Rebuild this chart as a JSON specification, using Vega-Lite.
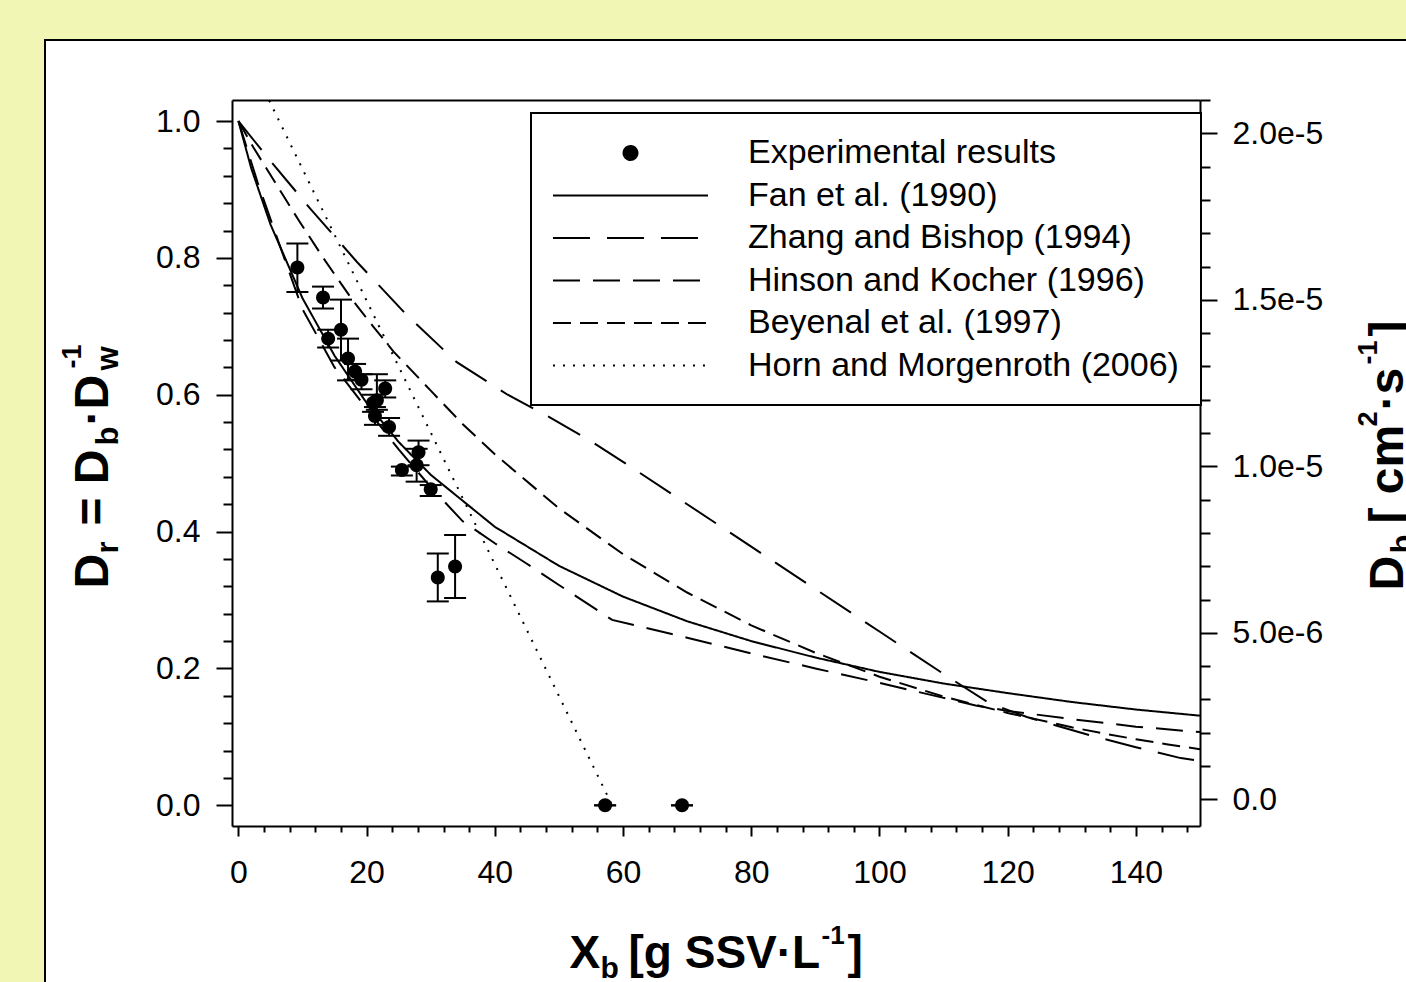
{
  "$schema": "https://vega.github.io/schema/vega-lite/v6.json",
  "width": 1366,
  "height": 946,
  "autosize": {"type": "none"},
  "padding": {"left": 45, "top": 40, "right": -5, "bottom": -4},
  "background": "#F2F6B4",
  "config": {
    "view": {"fill": "white", "stroke": "black", "strokeWidth": 2},
    "font": "Liberation Sans",
    "axis": {"domainColor": "black", "tickColor": "black", "labelColor": "black", "titleColor": "black", "domainWidth": 2, "tickWidth": 2, "grid": false, "labelFont": "Liberation Sans", "titleFont": "Liberation Sans", "labelFontSize": 32, "titleFontWeight": "bold", "labelFlush": false, "labelOverlap": false},
    "legend": {"padding": 22, "strokeColor": "black", "strokeWidth": 2, "fillColor": "white", "labelFont": "Liberation Sans", "labelFontSize": 34, "labelColor": "black", "labelOffset": 99.5, "symbolOffset": 59.5, "rowPadding": 7.5, "labelLimit": 1000, "symbolStrokeWidth": 2, "symbolStrokeColor": "black", "symbolFillColor": "black", "symbolOpacity": 1, "symbolSize": 1156}
  },
  "datasets": {
    "anchor": [{"v": 0}],
    "exp": [
      {"series": "Experimental results", "x": 9.2, "y": 0.786, "lo": 0.750, "hi": 0.821},
      {"series": "Experimental results", "x": 13.2, "y": 0.742, "lo": 0.726, "hi": 0.758},
      {"series": "Experimental results", "x": 16.0, "y": 0.695, "lo": 0.650, "hi": 0.739},
      {"series": "Experimental results", "x": 14.0, "y": 0.682, "lo": 0.669, "hi": 0.695},
      {"series": "Experimental results", "x": 17.1, "y": 0.653, "lo": 0.621, "hi": 0.682},
      {"series": "Experimental results", "x": 18.2, "y": 0.634, "lo": 0.622, "hi": 0.645},
      {"series": "Experimental results", "x": 19.2, "y": 0.622, "lo": 0.608, "hi": 0.630},
      {"series": "Experimental results", "x": 22.9, "y": 0.609, "lo": 0.596, "hi": 0.621},
      {"series": "Experimental results", "x": 21.6, "y": 0.592, "lo": 0.578, "hi": 0.630},
      {"series": "Experimental results", "x": 21.0, "y": 0.588, "lo": 0.575, "hi": 0.600},
      {"series": "Experimental results", "x": 21.3, "y": 0.569, "lo": 0.556, "hi": 0.582},
      {"series": "Experimental results", "x": 23.5, "y": 0.553, "lo": 0.540, "hi": 0.566},
      {"series": "Experimental results", "x": 28.1, "y": 0.516, "lo": 0.497, "hi": 0.533},
      {"series": "Experimental results", "x": 25.5, "y": 0.490, "lo": 0.482, "hi": 0.495},
      {"series": "Experimental results", "x": 27.8, "y": 0.497, "lo": 0.473, "hi": 0.521},
      {"series": "Experimental results", "x": 30.0, "y": 0.462, "lo": 0.452, "hi": 0.468},
      {"series": "Experimental results", "x": 31.1, "y": 0.333, "lo": 0.298, "hi": 0.368},
      {"series": "Experimental results", "x": 33.8, "y": 0.349, "lo": 0.303, "hi": 0.395},
      {"series": "Experimental results", "x": 57.2, "y": 0.0, "lo": 0.0, "hi": 0.0},
      {"series": "Experimental results", "x": 69.2, "y": 0.0, "lo": 0.0, "hi": 0.0}
    ],
    "curves": [
      {"series": "Fan et al. (1990)", "x": 0, "y": 1.0},
      {"series": "Fan et al. (1990)", "x": 2, "y": 0.931},
      {"series": "Fan et al. (1990)", "x": 5, "y": 0.849},
      {"series": "Fan et al. (1990)", "x": 10, "y": 0.741},
      {"series": "Fan et al. (1990)", "x": 15, "y": 0.657},
      {"series": "Fan et al. (1990)", "x": 20, "y": 0.588},
      {"series": "Fan et al. (1990)", "x": 25, "y": 0.531},
      {"series": "Fan et al. (1990)", "x": 30, "y": 0.483},
      {"series": "Fan et al. (1990)", "x": 40, "y": 0.407},
      {"series": "Fan et al. (1990)", "x": 50, "y": 0.350},
      {"series": "Fan et al. (1990)", "x": 60, "y": 0.305},
      {"series": "Fan et al. (1990)", "x": 70, "y": 0.269},
      {"series": "Fan et al. (1990)", "x": 80, "y": 0.240},
      {"series": "Fan et al. (1990)", "x": 90, "y": 0.216},
      {"series": "Fan et al. (1990)", "x": 100, "y": 0.195},
      {"series": "Fan et al. (1990)", "x": 110, "y": 0.178},
      {"series": "Fan et al. (1990)", "x": 120, "y": 0.164},
      {"series": "Fan et al. (1990)", "x": 130, "y": 0.151},
      {"series": "Fan et al. (1990)", "x": 140, "y": 0.140},
      {"series": "Fan et al. (1990)", "x": 150, "y": 0.131},
      {"series": "Zhang and Bishop (1994)", "x": 0, "y": 1.0},
      {"series": "Zhang and Bishop (1994)", "x": 4.7, "y": 0.945},
      {"series": "Zhang and Bishop (1994)", "x": 11.2, "y": 0.872},
      {"series": "Zhang and Bishop (1994)", "x": 18.5, "y": 0.794},
      {"series": "Zhang and Bishop (1994)", "x": 26, "y": 0.719},
      {"series": "Zhang and Bishop (1994)", "x": 34, "y": 0.648},
      {"series": "Zhang and Bishop (1994)", "x": 42, "y": 0.600},
      {"series": "Zhang and Bishop (1994)", "x": 48, "y": 0.570},
      {"series": "Zhang and Bishop (1994)", "x": 55, "y": 0.532},
      {"series": "Zhang and Bishop (1994)", "x": 60, "y": 0.502},
      {"series": "Zhang and Bishop (1994)", "x": 70, "y": 0.440},
      {"series": "Zhang and Bishop (1994)", "x": 80, "y": 0.378},
      {"series": "Zhang and Bishop (1994)", "x": 90, "y": 0.316},
      {"series": "Zhang and Bishop (1994)", "x": 100, "y": 0.254},
      {"series": "Zhang and Bishop (1994)", "x": 110, "y": 0.192},
      {"series": "Zhang and Bishop (1994)", "x": 117, "y": 0.150},
      {"series": "Zhang and Bishop (1994)", "x": 123, "y": 0.129},
      {"series": "Zhang and Bishop (1994)", "x": 133, "y": 0.102},
      {"series": "Zhang and Bishop (1994)", "x": 140, "y": 0.085},
      {"series": "Zhang and Bishop (1994)", "x": 147, "y": 0.069},
      {"series": "Zhang and Bishop (1994)", "x": 150, "y": 0.065},
      {"series": "Hinson and Kocher (1996)", "x": 0, "y": 1.0},
      {"series": "Hinson and Kocher (1996)", "x": 3, "y": 0.91},
      {"series": "Hinson and Kocher (1996)", "x": 6, "y": 0.83},
      {"series": "Hinson and Kocher (1996)", "x": 10, "y": 0.725},
      {"series": "Hinson and Kocher (1996)", "x": 15, "y": 0.64},
      {"series": "Hinson and Kocher (1996)", "x": 20, "y": 0.58},
      {"series": "Hinson and Kocher (1996)", "x": 25, "y": 0.52},
      {"series": "Hinson and Kocher (1996)", "x": 30, "y": 0.465},
      {"series": "Hinson and Kocher (1996)", "x": 35, "y": 0.415},
      {"series": "Hinson and Kocher (1996)", "x": 40, "y": 0.383},
      {"series": "Hinson and Kocher (1996)", "x": 45, "y": 0.353},
      {"series": "Hinson and Kocher (1996)", "x": 50, "y": 0.322},
      {"series": "Hinson and Kocher (1996)", "x": 58.3, "y": 0.271},
      {"series": "Hinson and Kocher (1996)", "x": 70, "y": 0.245},
      {"series": "Hinson and Kocher (1996)", "x": 80, "y": 0.222},
      {"series": "Hinson and Kocher (1996)", "x": 90, "y": 0.200},
      {"series": "Hinson and Kocher (1996)", "x": 100, "y": 0.179},
      {"series": "Hinson and Kocher (1996)", "x": 110, "y": 0.157},
      {"series": "Hinson and Kocher (1996)", "x": 115, "y": 0.146},
      {"series": "Hinson and Kocher (1996)", "x": 120, "y": 0.138},
      {"series": "Hinson and Kocher (1996)", "x": 130, "y": 0.126},
      {"series": "Hinson and Kocher (1996)", "x": 140, "y": 0.115},
      {"series": "Hinson and Kocher (1996)", "x": 150, "y": 0.107},
      {"series": "Beyenal et al. (1997)", "x": 0, "y": 1.0},
      {"series": "Beyenal et al. (1997)", "x": 2.3, "y": 0.962},
      {"series": "Beyenal et al. (1997)", "x": 6.8, "y": 0.894},
      {"series": "Beyenal et al. (1997)", "x": 9.4, "y": 0.855},
      {"series": "Beyenal et al. (1997)", "x": 13.3, "y": 0.799},
      {"series": "Beyenal et al. (1997)", "x": 17.9, "y": 0.737},
      {"series": "Beyenal et al. (1997)", "x": 21, "y": 0.700},
      {"series": "Beyenal et al. (1997)", "x": 24.2, "y": 0.663},
      {"series": "Beyenal et al. (1997)", "x": 30, "y": 0.606},
      {"series": "Beyenal et al. (1997)", "x": 35, "y": 0.557},
      {"series": "Beyenal et al. (1997)", "x": 40, "y": 0.513},
      {"series": "Beyenal et al. (1997)", "x": 50, "y": 0.434},
      {"series": "Beyenal et al. (1997)", "x": 60, "y": 0.367},
      {"series": "Beyenal et al. (1997)", "x": 70, "y": 0.311},
      {"series": "Beyenal et al. (1997)", "x": 80, "y": 0.263},
      {"series": "Beyenal et al. (1997)", "x": 90, "y": 0.223},
      {"series": "Beyenal et al. (1997)", "x": 100, "y": 0.188},
      {"series": "Beyenal et al. (1997)", "x": 110, "y": 0.159},
      {"series": "Beyenal et al. (1997)", "x": 120, "y": 0.135},
      {"series": "Beyenal et al. (1997)", "x": 130, "y": 0.114},
      {"series": "Beyenal et al. (1997)", "x": 135, "y": 0.105},
      {"series": "Beyenal et al. (1997)", "x": 140, "y": 0.0965},
      {"series": "Beyenal et al. (1997)", "x": 145, "y": 0.089},
      {"series": "Beyenal et al. (1997)", "x": 150, "y": 0.082},
      {"series": "Horn and Morgenroth (2006)", "x": 4.8, "y": 1.03},
      {"series": "Horn and Morgenroth (2006)", "x": 58.3, "y": 0.0}
    ]
  },
  "layer": [
    {
      "layer": [
        {
          "data": {"name": "curves"},
          "mark": {"type": "line", "color": "black", "strokeWidth": 2},
          "encoding": {
            "x": {"field": "x", "type": "quantitative", "scale": {"domain": [-1, 150], "range": [187, 1155], "nice": false}, "axis": null},
            "y": {"field": "y", "type": "quantitative", "scale": {"domain": [-0.0302, 1.0307], "range": [786, 60], "nice": false}, "axis": null},
            "strokeDash": {"field": "series", "type": "nominal",
              "scale": {"domain": ["Experimental results", "Fan et al. (1990)", "Zhang and Bishop (1994)", "Hinson and Kocher (1996)", "Beyenal et al. (1997)", "Horn and Morgenroth (2006)"],
                        "range": [[1, 0], [1, 0], [37, 17], [27, 13], [18, 9], [2, 8]]},
              "legend": {"title": null, "orient": "none", "legendX": 486, "legendY": 73,
                "encode": {"symbols": {"update": {"fill": {"value": "black"}, "stroke": {"value": "black"}, "strokeWidth": {"value": 2}, "opacity": {"value": 1}, "size": {"value": 1156}}}}}}
          }
        },
        {
          "data": {"name": "exp"},
          "mark": {"type": "rule", "color": "black", "strokeWidth": 2},
          "encoding": {
            "x": {"field": "x", "type": "quantitative", "scale": {"domain": [-1, 150], "range": [187, 1155], "nice": false}, "axis": null},
            "y": {"field": "lo", "type": "quantitative", "scale": {"domain": [-0.0302, 1.0307], "range": [786, 60], "nice": false}, "axis": null},
            "y2": {"field": "hi"}
          }
        },
        {
          "data": {"name": "exp"},
          "mark": {"type": "tick", "orient": "horizontal", "color": "black", "size": 22, "thickness": 2, "opacity": 1},
          "encoding": {
            "x": {"field": "x", "type": "quantitative", "scale": {"domain": [-1, 150], "range": [187, 1155], "nice": false}, "axis": null},
            "y": {"field": "lo", "type": "quantitative", "scale": {"domain": [-0.0302, 1.0307], "range": [786, 60], "nice": false}, "axis": null}
          }
        },
        {
          "data": {"name": "exp"},
          "mark": {"type": "tick", "orient": "horizontal", "color": "black", "size": 22, "thickness": 2, "opacity": 1},
          "encoding": {
            "x": {"field": "x", "type": "quantitative", "scale": {"domain": [-1, 150], "range": [187, 1155], "nice": false}, "axis": null},
            "y": {"field": "hi", "type": "quantitative", "scale": {"domain": [-0.0302, 1.0307], "range": [786, 60], "nice": false}, "axis": null}
          }
        },
        {
          "data": {"name": "exp"},
          "mark": {"type": "point", "filled": true, "color": "black", "opacity": 1, "size": 1156, "strokeWidth": 0},
          "encoding": {
            "x": {"field": "x", "type": "quantitative", "scale": {"domain": [-1, 150], "range": [187, 1155], "nice": false}, "axis": null},
            "y": {"field": "y", "type": "quantitative", "scale": {"domain": [-0.0302, 1.0307], "range": [786, 60], "nice": false}, "axis": null},
            "shape": {"field": "series", "type": "nominal",
              "scale": {"domain": ["Experimental results", "Fan et al. (1990)", "Zhang and Bishop (1994)", "Hinson and Kocher (1996)", "Beyenal et al. (1997)", "Horn and Morgenroth (2006)"],
                        "range": ["M-0.41,0A0.41,0.41,0,1,0,0.41,0A0.41,0.41,0,1,0,-0.41,0Z", "M-4.56,0H4.56", "M-4.56,0H4.56", "M-4.56,0H4.56", "M-4.56,0H4.56", "M-4.56,0H4.56"]},
              "legend": {"title": null, "orient": "none", "legendX": 486, "legendY": 73,
                "encode": {"symbols": {"update": {"fill": {"value": "black"}, "stroke": {"value": "black"}, "strokeWidth": {"value": 2}, "opacity": {"value": 1}, "size": {"value": 1156}}}}}}
          }
        }
      ]
    },
    {
      "data": {"name": "anchor"},
      "mark": {"type": "point", "opacity": 0},
      "encoding": {
        "x": {"field": "v", "type": "quantitative", "scale": {"domain": [-1, 150], "range": [187, 1155], "nice": false},
          "axis": {"orient": "bottom", "offset": -160, "values": [0, 20, 40, 60, 80, 100, 120, 140], "tickSize": 10, "labelPadding": 21, "title": null}}
      }
    },
    {
      "data": {"name": "anchor"},
      "mark": {"type": "point", "opacity": 0},
      "encoding": {
        "y": {"field": "v", "type": "quantitative", "scale": {"domain": [-0.0302, 1.0307], "range": [786, 60], "nice": false},
          "axis": {"orient": "left", "offset": -187, "values": [0, 0.2, 0.4, 0.6, 0.8, 1.0], "format": ".1f", "tickSize": 16, "labelPadding": 16, "title": null}}
      }
    },
    {
      "data": {"name": "anchor"},
      "mark": {"type": "point", "opacity": 0},
      "encoding": {
        "y": {"field": "v", "type": "quantitative", "scale": {"domain": [-8.0e-7, 2.1e-5], "range": [786, 60], "nice": false},
          "axis": {"orient": "right", "offset": -211, "values": [0, 5e-6, 1e-5, 1.5e-5, 2e-5], "labelExpr": "datum.value == 0 ? '0.0' : format(datum.value, '.1e')", "tickSize": 17, "labelPadding": 15, "title": null}}
      }
    },
    {
      "data": {"name": "anchor"},
      "mark": {"type": "point", "opacity": 0},
      "encoding": {
        "y": {"field": "v", "type": "quantitative", "scale": {"domain": [-8.0e-7, 2.1e-5], "range": [786, 60], "nice": false},
          "axis": {"orient": "right", "offset": -211, "values": [1e-6, 2e-6, 3e-6, 4e-6, 6e-6, 7e-6, 8e-6, 9e-6, 1.1e-5, 1.2e-5, 1.3e-5, 1.4e-5, 1.6e-5, 1.7e-5, 1.8e-5, 1.9e-5, 2.1e-5], "tickSize": 10, "labels": false, "domain": false, "title": null}}
      }
    },
    {
      "data": {"name": "anchor"},
      "mark": {"type": "point", "opacity": 0},
      "encoding": {
        "y": {"field": "v", "type": "quantitative", "scale": {"domain": [-0.0302, 1.0307], "range": [786, 60], "nice": false},
          "axis": {"orient": "left", "offset": -187, "values": [0.04, 0.08, 0.12, 0.16, 0.24, 0.28, 0.32, 0.36, 0.44, 0.48, 0.52, 0.56, 0.64, 0.68, 0.72, 0.76, 0.84, 0.88, 0.92, 0.96], "tickSize": 9, "labels": false, "domain": false, "title": null}}
      }
    },
    {
      "data": {"name": "anchor"},
      "mark": {"type": "point", "opacity": 0},
      "encoding": {
        "x": {"field": "v", "type": "quantitative", "scale": {"domain": [-1, 150], "range": [187, 1155], "nice": false},
          "axis": {"orient": "bottom", "offset": -160, "values": [4, 8, 12, 16, 24, 28, 32, 36, 44, 48, 52, 56, 64, 68, 72, 76, 84, 88, 92, 96, 104, 108, 112, 116, 124, 128, 132, 136, 144, 148], "tickSize": 6, "labels": false, "domain": false, "title": null}}
      }
    },
    {
      "data": {"name": "anchor"},
      "mark": {"type": "point", "opacity": 0},
      "encoding": {
        "x": {"field": "v", "type": "quantitative", "scale": {"domain": [-1, 150], "range": [187, 1155], "nice": false},
          "axis": {"orient": "top", "offset": -60, "ticks": false, "labels": false, "domain": true, "title": null}}
      }
    },
    {
      "data": {"name": "anchor"},
      "mark": {"type": "point", "opacity": 0},
      "encoding": {
        "x": {"field": "v", "type": "quantitative", "scale": {"domain": [-1, 150], "range": [187, 1155], "nice": false},
          "axis": {"orient": "bottom", "offset": -160, "ticks": false, "labels": false, "domain": false, "title": "X", "titleX": 524, "titleY": 141, "titleAlign": "left", "titleBaseline": "alphabetic", "titleAngle": 0, "titleFontSize": 46}}
      }
    },
    {
      "data": {"name": "anchor"},
      "mark": {"type": "point", "opacity": 0},
      "encoding": {
        "x": {"field": "v", "type": "quantitative", "scale": {"domain": [-1, 150], "range": [187, 1155], "nice": false},
          "axis": {"orient": "bottom", "offset": -160, "ticks": false, "labels": false, "domain": false, "title": "b", "titleX": 555, "titleY": 151, "titleAlign": "left", "titleBaseline": "alphabetic", "titleAngle": 0, "titleFontSize": 30}}
      }
    },
    {
      "data": {"name": "anchor"},
      "mark": {"type": "point", "opacity": 0},
      "encoding": {
        "x": {"field": "v", "type": "quantitative", "scale": {"domain": [-1, 150], "range": [187, 1155], "nice": false},
          "axis": {"orient": "bottom", "offset": -160, "ticks": false, "labels": false, "domain": false, "title": "[g SSV·L", "titleX": 583, "titleY": 141, "titleAlign": "left", "titleBaseline": "alphabetic", "titleAngle": 0, "titleFontSize": 46}}
      }
    },
    {
      "data": {"name": "anchor"},
      "mark": {"type": "point", "opacity": 0},
      "encoding": {
        "x": {"field": "v", "type": "quantitative", "scale": {"domain": [-1, 150], "range": [187, 1155], "nice": false},
          "axis": {"orient": "bottom", "offset": -160, "ticks": false, "labels": false, "domain": false, "title": "-1", "titleX": 776, "titleY": 117, "titleAlign": "left", "titleBaseline": "alphabetic", "titleAngle": 0, "titleFontSize": 26}}
      }
    },
    {
      "data": {"name": "anchor"},
      "mark": {"type": "point", "opacity": 0},
      "encoding": {
        "x": {"field": "v", "type": "quantitative", "scale": {"domain": [-1, 150], "range": [187, 1155], "nice": false},
          "axis": {"orient": "bottom", "offset": -160, "ticks": false, "labels": false, "domain": false, "title": "]", "titleX": 802, "titleY": 141, "titleAlign": "left", "titleBaseline": "alphabetic", "titleAngle": 0, "titleFontSize": 46}}
      }
    },
    {
      "data": {"name": "anchor"},
      "mark": {"type": "point", "opacity": 0},
      "encoding": {
        "y": {"field": "v", "type": "quantitative",
          "axis": {"orient": "left", "offset": -187, "ticks": false, "labels": false, "domain": false, "title": "D", "titleX": -125, "titleY": 548, "titleAlign": "left", "titleBaseline": "alphabetic", "titleAngle": 270, "titleFontSize": 48}}
      }
    },
    {
      "data": {"name": "anchor"},
      "mark": {"type": "point", "opacity": 0},
      "encoding": {
        "y": {"field": "v", "type": "quantitative",
          "axis": {"orient": "left", "offset": -187, "ticks": false, "labels": false, "domain": false, "title": "r", "titleX": -115, "titleY": 513, "titleAlign": "left", "titleBaseline": "alphabetic", "titleAngle": 270, "titleFontSize": 31}}
      }
    },
    {
      "data": {"name": "anchor"},
      "mark": {"type": "point", "opacity": 0},
      "encoding": {
        "y": {"field": "v", "type": "quantitative",
          "axis": {"orient": "left", "offset": -187, "ticks": false, "labels": false, "domain": false, "title": "= D", "titleX": -125, "titleY": 485, "titleAlign": "left", "titleBaseline": "alphabetic", "titleAngle": 270, "titleFontSize": 48}}
      }
    },
    {
      "data": {"name": "anchor"},
      "mark": {"type": "point", "opacity": 0},
      "encoding": {
        "y": {"field": "v", "type": "quantitative",
          "axis": {"orient": "left", "offset": -187, "ticks": false, "labels": false, "domain": false, "title": "b", "titleX": -115, "titleY": 405, "titleAlign": "left", "titleBaseline": "alphabetic", "titleAngle": 270, "titleFontSize": 31}}
      }
    },
    {
      "data": {"name": "anchor"},
      "mark": {"type": "point", "opacity": 0},
      "encoding": {
        "y": {"field": "v", "type": "quantitative",
          "axis": {"orient": "left", "offset": -187, "ticks": false, "labels": false, "domain": false, "title": "·D", "titleX": -125, "titleY": 385, "titleAlign": "left", "titleBaseline": "alphabetic", "titleAngle": 270, "titleFontSize": 48}}
      }
    },
    {
      "data": {"name": "anchor"},
      "mark": {"type": "point", "opacity": 0},
      "encoding": {
        "y": {"field": "v", "type": "quantitative",
          "axis": {"orient": "left", "offset": -187, "ticks": false, "labels": false, "domain": false, "title": "w", "titleX": -115, "titleY": 330, "titleAlign": "left", "titleBaseline": "alphabetic", "titleAngle": 270, "titleFontSize": 31}}
      }
    },
    {
      "data": {"name": "anchor"},
      "mark": {"type": "point", "opacity": 0},
      "encoding": {
        "y": {"field": "v", "type": "quantitative",
          "axis": {"orient": "left", "offset": -187, "ticks": false, "labels": false, "domain": false, "title": "-1", "titleX": -152, "titleY": 328, "titleAlign": "left", "titleBaseline": "alphabetic", "titleAngle": 270, "titleFontSize": 27}}
      }
    },
    {
      "data": {"name": "anchor"},
      "mark": {"type": "point", "opacity": 0},
      "encoding": {
        "y": {"field": "v", "type": "quantitative",
          "axis": {"orient": "right", "offset": -211, "ticks": false, "labels": false, "domain": false, "title": "D", "titleX": 202, "titleY": 550, "titleAlign": "left", "titleBaseline": "alphabetic", "titleAngle": 270, "titleFontSize": 48}}
      }
    },
    {
      "data": {"name": "anchor"},
      "mark": {"type": "point", "opacity": 0},
      "encoding": {
        "y": {"field": "v", "type": "quantitative",
          "axis": {"orient": "right", "offset": -211, "ticks": false, "labels": false, "domain": false, "title": "b", "titleX": 212, "titleY": 513, "titleAlign": "left", "titleBaseline": "alphabetic", "titleAngle": 270, "titleFontSize": 31}}
      }
    },
    {
      "data": {"name": "anchor"},
      "mark": {"type": "point", "opacity": 0},
      "encoding": {
        "y": {"field": "v", "type": "quantitative",
          "axis": {"orient": "right", "offset": -211, "ticks": false, "labels": false, "domain": false, "title": "[ cm", "titleX": 202, "titleY": 483, "titleAlign": "left", "titleBaseline": "alphabetic", "titleAngle": 270, "titleFontSize": 48}}
      }
    },
    {
      "data": {"name": "anchor"},
      "mark": {"type": "point", "opacity": 0},
      "encoding": {
        "y": {"field": "v", "type": "quantitative",
          "axis": {"orient": "right", "offset": -211, "ticks": false, "labels": false, "domain": false, "title": "2", "titleX": 176, "titleY": 386, "titleAlign": "left", "titleBaseline": "alphabetic", "titleAngle": 270, "titleFontSize": 27}}
      }
    },
    {
      "data": {"name": "anchor"},
      "mark": {"type": "point", "opacity": 0},
      "encoding": {
        "y": {"field": "v", "type": "quantitative",
          "axis": {"orient": "right", "offset": -211, "ticks": false, "labels": false, "domain": false, "title": "·s", "titleX": 202, "titleY": 370, "titleAlign": "left", "titleBaseline": "alphabetic", "titleAngle": 270, "titleFontSize": 48}}
      }
    },
    {
      "data": {"name": "anchor"},
      "mark": {"type": "point", "opacity": 0},
      "encoding": {
        "y": {"field": "v", "type": "quantitative",
          "axis": {"orient": "right", "offset": -211, "ticks": false, "labels": false, "domain": false, "title": "-1", "titleX": 176, "titleY": 324, "titleAlign": "left", "titleBaseline": "alphabetic", "titleAngle": 270, "titleFontSize": 27}}
      }
    },
    {
      "data": {"name": "anchor"},
      "mark": {"type": "point", "opacity": 0},
      "encoding": {
        "y": {"field": "v", "type": "quantitative",
          "axis": {"orient": "right", "offset": -211, "ticks": false, "labels": false, "domain": false, "title": "]", "titleX": 202, "titleY": 296, "titleAlign": "left", "titleBaseline": "alphabetic", "titleAngle": 270, "titleFontSize": 48}}
      }
    }
  ],
  "resolve": {"scale": {"y": "independent"}, "axis": {"x": "independent", "y": "independent"}}
}
